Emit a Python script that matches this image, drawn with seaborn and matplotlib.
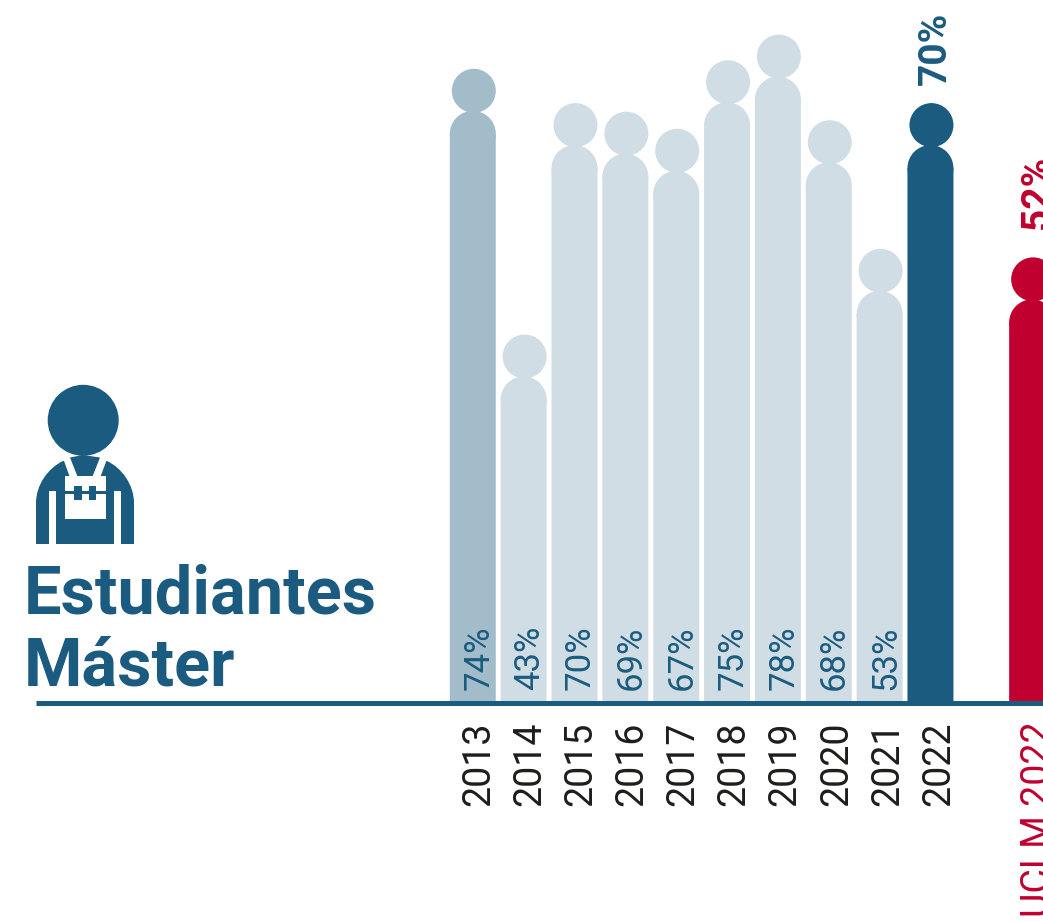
import numpy as np
import pandas as pd
import seaborn as sns
import matplotlib.pyplot as plt
from matplotlib.patches import Circle, Polygon, PathPatch, Rectangle
from matplotlib.path import Path

BLUE = "#1a5b7f"
LIGHT = "#d1dde5"
MID = "#a3bcca"
RED = "#c0002f"

years = ["2013", "2014", "2015", "2016", "2017", "2018", "2019", "2020", "2021", "2022", "UCLM 2022"]
slots = [0, 1, 2, 3, 4, 5, 6, 7, 8, 9, 11]
values = [74, 43, 70, 69, 67, 75, 78, 68, 53, 70, 52]
bar_colors = [MID, LIGHT, LIGHT, LIGHT, LIGHT, LIGHT, LIGHT, LIGHT, LIGHT, BLUE, RED]

W, H = 1043, 922
PX_PER_PCT = 8.57
SLOT_PX = 50.85
X0_PX, Y0_PX = 472.8, 703

df = pd.DataFrame({"year": years, "slot": slots, "value": values})
# a figure's full height is the value: head, then shoulders, then the body
df["head_x"] = df["slot"] + 1 / SLOT_PX
df["head_y"] = df["value"] - 22 / PX_PER_PCT
df["shoulder_y"] = df["value"] - 65 / PX_PER_PCT
df["body"] = df["shoulder_y"]

plt.rcParams["font.family"] = ["Roboto", "DejaVu Sans"]
fig = plt.figure(figsize=(W / 100, H / 100), dpi=100)
ax = fig.add_axes([0, 0, 1, 1])

palette = dict(zip(years, bar_colors))
sns.barplot(data=df, x="slot", y="body", hue="year", palette=palette, dodge=False,
            native_scale=True, width=46 / SLOT_PX, saturation=1, legend=False, ax=ax)
# bars snapped to whole pixels leave a step under the round shoulders
for bar in ax.patches:
    bar.set_snap(False)
    bar.set_linewidth(0)
# round tops and heads, sizes are in points^2 (diameter in px * 0.72)
sns.scatterplot(data=df, x="slot", y="shoulder_y", hue="year", palette=palette,
                s=(46 * 0.72) ** 2, linewidth=0, legend=False, ax=ax)
sns.scatterplot(data=df, x="head_x", y="head_y", hue="year", palette=palette,
                s=(44 * 0.72) ** 2, linewidth=0, legend=False, ax=ax)

ax.set_xlim(-X0_PX / SLOT_PX, (W - X0_PX) / SLOT_PX)
ax.set_ylim((Y0_PX - H) / PX_PER_PCT, Y0_PX / PX_PER_PCT)
ax.axis("off")

# baseline
ax.plot([(36 - X0_PX) / SLOT_PX, (W - X0_PX) / SLOT_PX], [0, 0], color=BLUE, lw=3.6,
        solid_capstyle="butt", zorder=5)

# labels inside the bars and below the axis
for slot, year, value in zip(slots, years, values):
    if year.startswith("UCLM"):
        color, nudge = RED, 6
    else:
        color, nudge = "#1d1d1b", 5.5 + slot * 0.3
    ax.text(slot + nudge / SLOT_PX, -18.5 / PX_PER_PCT, year, rotation=90, ha="center", va="top",
            fontsize=27, color=color, clip_on=False)
    if slot < 9:
        ax.text(slot + 6 / SLOT_PX, 13 / PX_PER_PCT, f"{value}%", rotation=90, ha="center",
                va="bottom", fontsize=25, color=BLUE)

ax.text(9 + 5 / SLOT_PX, 70 + 18 / PX_PER_PCT, "70%", rotation=90, ha="center", va="bottom",
        fontsize=28, fontweight="bold", color=BLUE)
ax.text(11 + 5 / SLOT_PX, 52 + 28 / PX_PER_PCT, "52%", rotation=90, ha="center", va="bottom",
        fontsize=28, fontweight="bold", color=RED)

# title and worker icon are placed in pixel coordinates
ov = fig.add_axes([0, 0, 1, 1], facecolor="none")
ov.set_xlim(0, W)
ov.set_ylim(H, 0)
ov.axis("off")
ov.text(24, 613, "Estudiantes", fontsize=48, fontweight="bold", color=BLUE, va="baseline")
ov.text(24, 685, "Máster", fontsize=48, fontweight="bold", color=BLUE, va="baseline")

ov.add_patch(Circle((83.2, 420.3), 35.5, color=BLUE, lw=0))
verts = [(36, 544), (36, 503), (36, 485), (48, 468), (63, 461), (107, 461), (122, 468),
         (134, 485), (134, 503), (134, 544), (36, 544)]
codes = [Path.MOVETO, Path.LINETO, Path.CURVE4, Path.CURVE4, Path.CURVE4, Path.LINETO,
         Path.CURVE4, Path.CURVE4, Path.CURVE4, Path.LINETO, Path.CLOSEPOLY]
ov.add_patch(PathPatch(Path(verts, codes), facecolor=BLUE, lw=0))
ov.add_patch(Polygon([(63, 458), (107.5, 458), (100.7, 476), (69.4, 476)], color="white", lw=0))
ov.add_patch(Rectangle((65, 476), 40.7, 43.3, color="white", lw=0))
ov.add_patch(Rectangle((49.3, 491), 6.7, 53, color="white", lw=0))
ov.add_patch(Rectangle((114.3, 491), 6.7, 53, color="white", lw=0))
ov.add_patch(Polygon([(70, 457.5), (83, 455), (100, 457.5), (92.7, 476), (77.3, 476)], color=BLUE, lw=0))
ov.add_patch(Rectangle((65, 491), 40.7, 3, color=BLUE, lw=0))
ov.add_patch(Rectangle((74.3, 485.5), 7.4, 14.5, color=BLUE, lw=0))
ov.add_patch(Rectangle((89, 485.5), 7.4, 14.5, color=BLUE, lw=0))

fig.savefig("out.png", dpi=100)
